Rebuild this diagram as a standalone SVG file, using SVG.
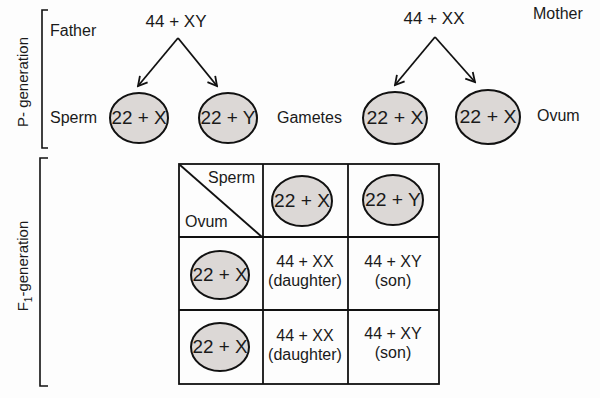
<svg xmlns="http://www.w3.org/2000/svg" width="600" height="398" viewBox="0 0 600 398">
<defs>
<style>
text{font-family:"Liberation Sans",Arial,sans-serif;fill:#1a1a1a}
.lbl{font-size:16px}
.side{font-size:15px}
.big{font-size:17px}
.cell{font-size:16px;text-anchor:middle}
.gam{font-size:18px;text-anchor:middle}
.egg{fill:#dcd8d6;stroke:#111;stroke-width:2}
.ln{stroke:#111;stroke-width:1.8;fill:none}
.br{stroke:#111;stroke-width:1.6;fill:none}
</style>
<marker id="ah" viewBox="0 0 12 12" refX="10" refY="6" markerWidth="12" markerHeight="12" markerUnits="userSpaceOnUse" orient="auto">
<path d="M1,1 L10,6 L1,11" fill="none" stroke="#111" stroke-width="1.8"/>
</marker>
</defs>
<rect width="600" height="398" fill="#fdfdfd"/>

<!-- brackets and side labels -->
<path class="br" d="M48,10 H42 V148 H48"/>
<text class="side" transform="translate(28,82) rotate(-90)" text-anchor="middle">P- generation</text>
<path class="br" d="M48,158 H40 V386 H48"/>
<text class="side" transform="translate(28,266) rotate(-90)" text-anchor="middle">F<tspan font-size="10" dy="4">1</tspan><tspan dy="-4">-generation</tspan></text>

<!-- P generation -->
<g id="father"><text class="lbl" x="50" y="36">Father</text></g>
<g id="father-geno"><text class="big" x="176" y="27" text-anchor="middle">44 + XY</text></g>
<g id="mother-geno"><text class="big" x="434" y="24" text-anchor="middle">44 + XX</text></g>
<g id="mother"><text class="lbl" x="533" y="19">Mother</text></g>

<g id="sperm-label"><text class="lbl" x="50" y="123">Sperm</text></g>
<g id="gametes-label"><text class="lbl" x="277" y="123">Gametes</text></g>
<g id="ovum-label"><text class="lbl" x="537" y="121">Ovum</text></g>

<g id="sperm-x"><ellipse class="egg" cx="139" cy="118" rx="29" ry="25"/><text class="gam" x="139" y="124" textLength="55" lengthAdjust="spacingAndGlyphs">22 + X</text></g>
<g id="sperm-y"><ellipse class="egg" cx="228" cy="118" rx="29" ry="25"/><text class="gam" x="228" y="124" textLength="55" lengthAdjust="spacingAndGlyphs">22 + Y</text></g>
<g id="ovum-x1"><ellipse class="egg" cx="395" cy="118" rx="32" ry="26"/><text class="gam" x="395" y="124" textLength="57" lengthAdjust="spacingAndGlyphs">22 + X</text></g>
<g id="ovum-x2"><ellipse class="egg" cx="488" cy="117" rx="32" ry="27"/><text class="gam" x="488" y="123" textLength="57" lengthAdjust="spacingAndGlyphs">22 + X</text></g>

<g id="connectors">
<line class="ln" x1="178" y1="38" x2="138" y2="86" marker-end="url(#ah)"/>
<line class="ln" x1="178" y1="38" x2="217" y2="86" marker-end="url(#ah)"/>
<line class="ln" x1="435" y1="37" x2="395" y2="85" marker-end="url(#ah)"/>
<line class="ln" x1="435" y1="37" x2="475" y2="82" marker-end="url(#ah)"/>
</g>

<!-- Punnett square -->
<g id="grid">
<rect class="ln" x="179" y="164" width="260" height="220"/>
<line class="ln" x1="263" y1="164" x2="263" y2="384"/>
<line class="ln" x1="348" y1="164" x2="348" y2="384"/>
<line class="ln" x1="179" y1="237" x2="439" y2="237"/>
<line class="ln" x1="179" y1="310" x2="439" y2="310"/>
<line class="ln" x1="180" y1="165" x2="262" y2="237"/>
</g>
<g id="hdr-sperm"><text class="lbl" x="208" y="183">Sperm</text></g>
<g id="hdr-ovum"><text class="lbl" x="185" y="227">Ovum</text></g>

<g id="col-x"><ellipse class="egg" cx="302" cy="201" rx="30" ry="25"/><text class="gam" x="302" y="207" textLength="56" lengthAdjust="spacingAndGlyphs">22 + X</text></g>
<g id="col-y"><ellipse class="egg" cx="393" cy="200" rx="30" ry="25"/><text class="gam" x="393" y="206" textLength="56" lengthAdjust="spacingAndGlyphs">22 + Y</text></g>
<g id="row-x1"><ellipse class="egg" cx="220" cy="275" rx="29" ry="24"/><text class="gam" x="220" y="281" textLength="55" lengthAdjust="spacingAndGlyphs">22 + X</text></g>
<g id="row-x2"><ellipse class="egg" cx="220" cy="347" rx="29" ry="24"/><text class="gam" x="220" y="353" textLength="55" lengthAdjust="spacingAndGlyphs">22 + X</text></g>

<g id="c11"><text class="cell" x="305" y="267">44 + XX</text><text class="cell" x="305" y="286">(daughter)</text></g>
<g id="c12"><text class="cell" x="393" y="267">44 + XY</text><text class="cell" x="393" y="286">(son)</text></g>
<g id="c21"><text class="cell" x="305" y="341">44 + XX</text><text class="cell" x="305" y="360">(daughter)</text></g>
<g id="c22"><text class="cell" x="393" y="339">44 + XY</text><text class="cell" x="393" y="358">(son)</text></g>
</svg>
